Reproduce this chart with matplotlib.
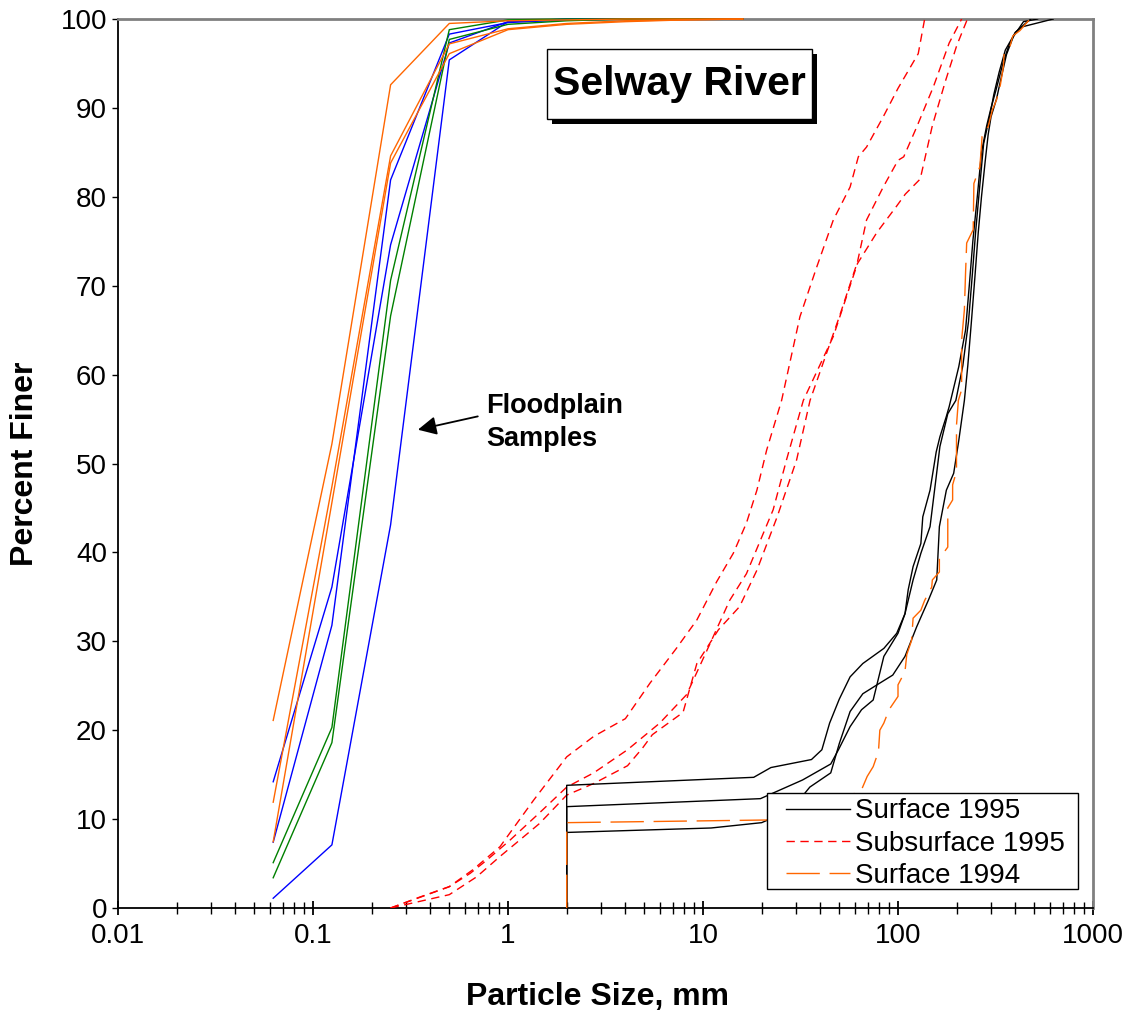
import matplotlib
matplotlib.use('Agg')
import matplotlib.pyplot as plt
from matplotlib.patches import Rectangle
from matplotlib.ticker import LogLocator, NullFormatter

plt.rcParams['font.family'] = ['Liberation Sans', 'DejaVu Sans']

# ---------------- data ----------------
x_ticks = [0.01, 0.1, 1, 10, 100, 1000]
x_tick_labels = ['0.01', '0.1', '1', '10', '100', '1000']
y_ticks = [0, 10, 20, 30, 40, 50, 60, 70, 80, 90, 100]

# Floodplain samples (sieve sizes, mm)
fp_x = [0.0625, 0.125, 0.25, 0.5, 1, 2, 4, 8, 16]
fp_orange1 = [21.1, 52.2, 92.6, 99.5, 99.8, 99.9, 100, 100, 100]
fp_orange2 = [11.9, 47.4, 84.6, 97.2, 98.9, 99.5, 99.8, 99.9, 100]
fp_orange3 = [7.45, 45.6, 83.8, 96.1, 98.8, 99.4, 99.7, 99.9, 100]
fp_blue1 = [14.2, 36.1, 74.6, 97.3, 99.7, 100, 100, 100, 100]
fp_blue2 = [7.4, 31.8, 81.9, 98.3, 99.6, 99.9, 100, 100, 100]
fp_blue3 = [1.1, 7.1, 43.1, 95.4, 99.7, 99.9, 100, 100, 100]
fp_green1 = [5.1, 20.3, 70.6, 98.8, 99.9, 100, 100, 100, 100]
fp_green2 = [3.4, 18.6, 66.6, 97.7, 99.4, 99.8, 100, 100, 100]

# Subsurface 1995
ssA_x = [0.25, 0.35, 0.5, 0.66, 0.91, 1.35, 2.0, 2.75, 4.0, 5.35, 7.3, 9.3, 11.75, 14.3,
         16.7, 18.9, 21.2, 25.3, 31.4, 38.3, 46.6, 56.8, 62.6, 69, 84, 100, 127, 137]
ssA_y = [0, 1.2, 2.4, 4.3, 6.9, 12.1, 17.0, 19.3, 21.3, 25.3, 29.2, 32.4, 36.7, 39.9,
         43.3, 47.0, 51.5, 57.1, 66.5, 72.1, 77.4, 81.1, 84.5, 85.6, 89.0, 92.2, 96.1, 100]
ssB_x = [0.25, 0.5, 0.69, 0.91, 1.1, 1.45, 2.0, 2.75, 4.1, 4.9, 5.5, 7.9, 9.3, 12, 15.4,
         18.9, 24, 30.2, 35.4, 50, 62, 69, 84, 100, 107, 125, 152, 183, 212]
ssB_y = [0, 1.5, 3.5, 5.8, 7.3, 9.5, 12.7, 14.0, 16.0, 18.0, 19.5, 22.0, 27.5, 31.3, 33.9,
         38.0, 44.0, 50.4, 57.1, 66.5, 72.7, 77.4, 81.1, 84.1, 84.5, 87.9, 92.4, 97.3, 100]
ssC_x = [0.25, 0.5, 0.64, 0.78, 1.02, 1.45, 2.0, 2.75, 4.1, 6.0, 8.24, 10.9, 13.7, 16.7,
         22.9, 26.8, 32.7, 46.6, 56.8, 62, 78, 98, 109, 130, 150, 175, 200, 227]
ssC_y = [0, 2.4, 3.9, 5.4, 7.6, 10.7, 13.6, 15.2, 17.8, 20.8, 24.0, 29.8, 34.6, 37.6,
         44.8, 50.4, 57.1, 64.3, 70.0, 72.5, 76.0, 78.9, 80.3, 82.0, 88.0, 93.0, 97.0, 100]

# Surface 1995
s1_x = [2, 2, 18.2, 22.3, 36, 40.7, 44.6, 50, 56.8, 66, 84.6, 98.5, 108.6, 112.8, 119.5,
        131, 134, 146, 157, 164, 177, 183, 205, 222, 232, 242, 255, 268, 285, 300, 318,
        345, 370, 400, 450, 480]
s1_y = [0, 13.8, 14.7, 15.8, 16.7, 17.8, 20.8, 23.5, 26.0, 27.5, 29.2, 30.9, 33.1,
        35.8, 38.4, 41.0, 44.0, 47.0, 51.3, 53.0, 55.3, 56.4, 60.9, 65, 70, 75, 80, 85, 88,
        90, 92, 95, 97, 98.5, 99.5, 100]
s2_x = [2, 2, 19.7, 32.4, 45.2, 49.5, 56.8, 65, 74.6, 84.6, 100, 108.6, 119.5, 131, 146,
        157, 164, 180, 198, 215, 230, 240, 250, 262, 275, 295, 310, 330, 355, 400, 430, 625]
s2_y = [0, 11.4, 12.3, 14.4, 16.2, 17.8, 20.4, 22.3, 23.4, 28.3, 30.9, 33.1, 36.9, 39.9,
        42.9, 48.5, 51.9, 55.6, 57.1, 61, 66, 71, 76, 81, 86, 89, 91.5, 94, 96.5, 98.5,
        99.1, 100]
s3_x = [2, 2, 11, 20, 28, 32.4, 35.3, 45.2, 50, 56.8, 66, 78, 94, 108.6, 124.5, 143, 158,
        163, 177, 193, 205, 219, 228, 238, 248, 258, 268, 280, 290, 300, 320, 335, 360,
        390, 440, 520]
s3_y = [0, 8.5, 9.0, 9.6, 11.0, 12.6, 13.6, 15.2, 18.5, 22.1, 24.1, 25.1, 26.2, 28.3, 31.6,
        34.6, 36.9, 42.9, 47.0, 48.9, 52.6, 57.1, 61, 66, 71, 76, 80, 84, 87, 89, 91, 93,
        96, 98, 99.7, 100]

# Surface 1994
s94_x = [2, 2, 21.4, 45, 65, 69.5, 74.6, 79.4, 80.7, 84.6, 89.9, 100, 100, 108.6, 110.9,
         117.4, 119.5, 131, 137, 148.9, 150, 163, 163, 180, 180, 190.6, 190.6, 199.5, 199.5,
         204, 212, 212, 219, 222, 225, 243, 245, 263, 270, 290, 305, 320, 335, 347, 350,
         375, 388, 422, 475]
s94_y = [0, 9.6, 9.9, 11.5, 13.3, 14.8, 15.9, 17.6, 20.0, 20.8, 22.3, 23.8, 25.1, 26.6,
         28.5, 30.1, 32.6, 33.5, 34.6, 36.1, 36.9, 37.8, 39.3, 40.6, 45.0, 45.9, 47.6, 49.1,
         54.3, 57.1, 58.3, 63.9, 67.3, 71.4, 74.8, 76.3, 81.5, 83.4, 86.8, 87.9, 89.8, 90.9,
         92.6, 94.6, 96.1, 96.9, 98.1, 98.7, 100]

legend_labels = ['Surface 1995', 'Subsurface 1995', 'Surface 1994']

# ---------------- figure ----------------
W, H = 1129, 1015
fig = plt.figure(figsize=(W / 100, H / 100), dpi=100)
L, R, T, B = 118, 1093, 19, 908
ax = fig.add_axes([L / W, 1 - B / H, (R - L) / W, (B - T) / H])

ORANGE = '#FF6600'
BLUE = '#0000FF'
GREEN = '#008000'
RED = '#FF0000'
lw = 1.0

fp_sets = [(fp_blue1, BLUE), (fp_blue2, BLUE), (fp_blue3, BLUE),
           (fp_green1, GREEN), (fp_green2, GREEN),
           (fp_orange1, ORANGE), (fp_orange2, ORANGE), (fp_orange3, ORANGE)]
for vals, c in fp_sets:
    ax.plot(fp_x, vals, color=c, lw=lw, zorder=3, clip_on=False)

h_sub = None
for xs, ys in [(ssA_x, ssA_y), (ssB_x, ssB_y), (ssC_x, ssC_y)]:
    h_sub, = ax.plot(xs, ys, color=RED, lw=lw, dashes=(6, 4), zorder=3)

h_s95 = None
for xs, ys in [(s1_x, s1_y), (s2_x, s2_y), (s3_x, s3_y)]:
    h_s95, = ax.plot(xs, ys, color='black', lw=lw, zorder=3)

h_s94, = ax.plot(s94_x, s94_y, color=ORANGE, lw=lw, dashes=(24, 7), zorder=4)

ax.set_xscale('log')
ax.set_xlim(0.01, 1000)
ax.set_ylim(0, 100)
ax.set_xticks(x_ticks)
ax.set_xticklabels(x_tick_labels)
ax.xaxis.set_minor_locator(LogLocator(base=10, subs=range(2, 10), numticks=20))
ax.xaxis.set_minor_formatter(NullFormatter())
ax.set_yticks(y_ticks)
ax.tick_params(axis='x', which='major', direction='inout', length=10, width=1.3,
               labelsize=20, pad=6, top=False)
ax.tick_params(axis='x', which='minor', direction='inout', length=9, width=1.0, top=False)
ax.tick_params(axis='y', which='major', direction='out', length=4, width=1.0,
               labelsize=20, pad=4, right=False)

for s in ['top', 'right']:
    ax.spines[s].set_color('#808080')
    ax.spines[s].set_linewidth(2.0)
for s in ['bottom', 'left']:
    ax.spines[s].set_color('black')
    ax.spines[s].set_linewidth(1.3)

# axis titles
fig.text(597 / W, 1 - 997 / H, 'Particle Size, mm', fontsize=23, fontweight='bold',
         ha='center', va='center')
fig.text(25 / W, 1 - 464 / H, 'Percent Finer', fontsize=23, fontweight='bold',
         ha='center', va='center', rotation=90)


def ax_fx(px):
    return (px - L) / (R - L)


def ax_fy(py):
    return (B - py) / (B - T)


# title box with shadow
bx0, bx1, by0, by1 = 547, 812, 49, 119
ax.add_patch(Rectangle((ax_fx(bx0 + 5), ax_fy(by1 + 5)), ax_fx(bx1) - ax_fx(bx0),
                       ax_fy(by0) - ax_fy(by1), transform=ax.transAxes,
                       facecolor='black', edgecolor='black', lw=0, zorder=5))
ax.add_patch(Rectangle((ax_fx(bx0), ax_fy(by1)), ax_fx(bx1) - ax_fx(bx0),
                       ax_fy(by0) - ax_fy(by1), transform=ax.transAxes,
                       facecolor='white', edgecolor='black', lw=1.0, zorder=6))
ax.text(ax_fx((bx0 + bx1) / 2), ax_fy((by0 + by1) / 2), 'Selway River', fontsize=29.5,
        fontweight='bold', ha='center', va='center', transform=ax.transAxes, zorder=7)

# Floodplain annotation
ax.text(0.771, 54.6, 'Floodplain\nSamples', fontsize=19.5, fontweight='bold',
        ha='left', va='center', linespacing=1.36, zorder=7)
ax.annotate('', xy=(0.345, 53.8), xytext=(0.70, 55.3),
            arrowprops=dict(arrowstyle='-|>', mutation_scale=28, lw=1.3, color='black',
                            shrinkA=0, shrinkB=0), zorder=7)

# legend frame drawn as a patch, legend contents without frame
lx0, lx1, ly0, ly1 = 767, 1078, 793, 889
ax.add_patch(Rectangle((ax_fx(lx0), ax_fy(ly1)), ax_fx(lx1) - ax_fx(lx0),
                       ax_fy(ly0) - ax_fy(ly1), transform=ax.transAxes,
                       facecolor='white', edgecolor='black', lw=1.0, zorder=9))
leg = ax.legend([h_s95, h_sub, h_s94], legend_labels, loc='lower left',
                bbox_to_anchor=(ax_fx(786), ax_fy(889)), borderaxespad=0,
                fontsize=20, frameon=False, handlelength=2.3, handletextpad=0.18,
                labelspacing=0.23, borderpad=0.0)
leg.set_zorder(10)

fig.savefig('out.png', dpi=100, facecolor='white')
